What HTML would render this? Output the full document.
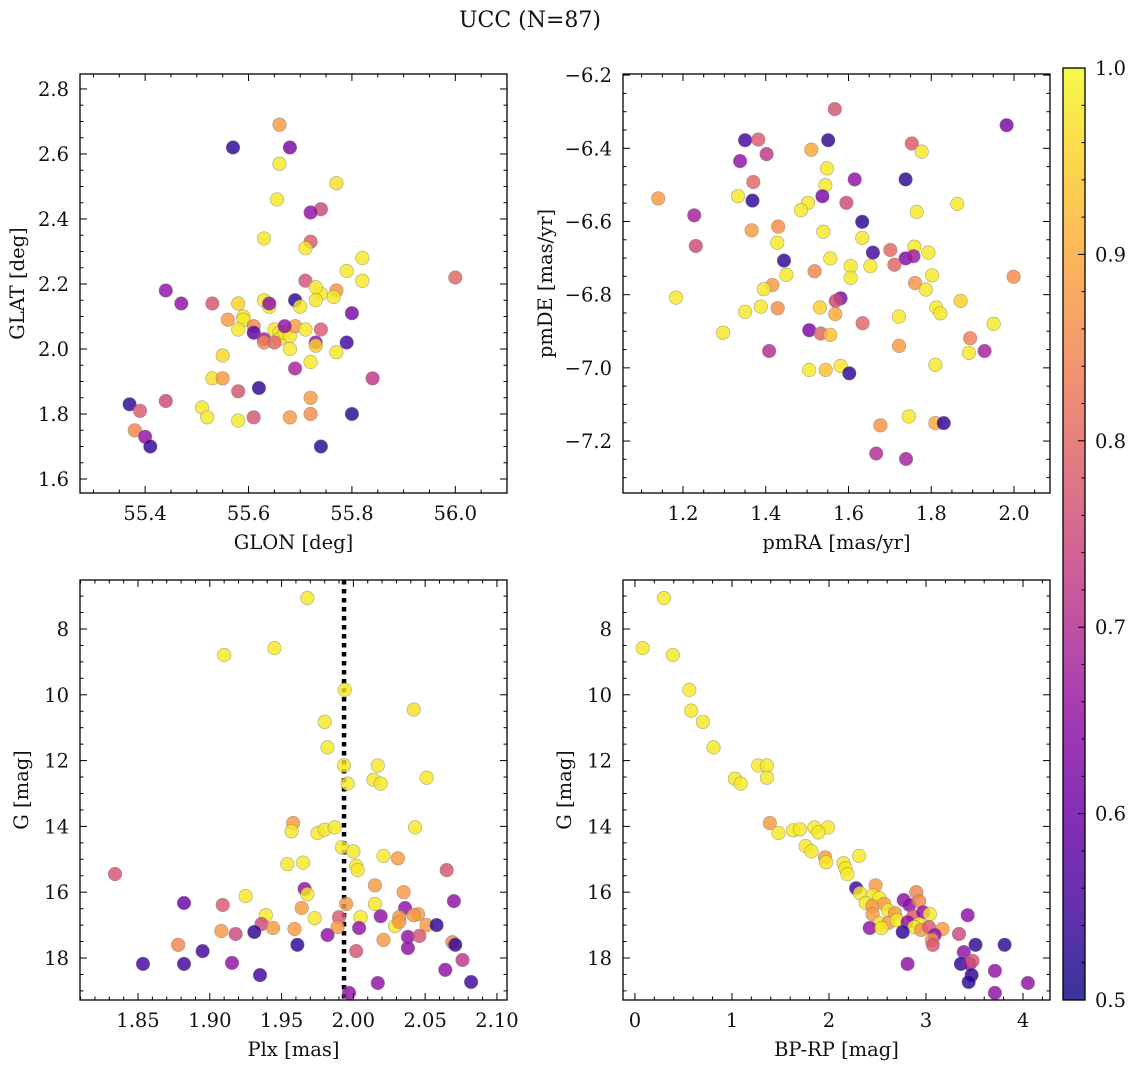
<!DOCTYPE html>
<html><head><meta charset="utf-8"><title>UCC (N=87)</title>
<style>
html,body{margin:0;padding:0;background:#fff;}
svg{display:block;font-family:"DejaVu Serif","Liberation Serif",serif;}
</style></head>
<body>
<svg id="fig" width="1136" height="1068" viewBox="0 0 1136 1068" xmlns="http://www.w3.org/2000/svg">
<text x="530" y="27" font-size="22" text-anchor="middle" fill="#111">UCC (N=87)</text>
</svg>
<script>
// ---------- Panel 1: GLON / GLAT ----------
const glon = [55.66,55.57,55.68,55.66,55.655,55.74,55.77,55.72,55.63,55.72,55.71,55.82,55.79,55.82,55.71,56.00,55.44,55.47,55.53,55.58,55.63,55.69,55.74,55.73,55.73,55.77,55.64,55.70,55.80,55.56,55.59,55.59,55.58,55.61,55.61,55.63,55.63,55.65,55.66,55.66,55.67,55.68,55.69,55.71,55.67,55.65,55.68,55.73,55.73,55.79,55.69,55.72,55.55,55.77,55.62,55.58,55.53,55.55,55.51,55.52,55.58,55.61,55.68,55.72,55.72,55.80,55.84,55.37,55.39,55.44,55.38,55.40,55.41,55.74,55.64,55.74,55.765];
const glat = [2.69,2.62,2.62,2.57,2.46,2.43,2.51,2.42,2.34,2.33,2.31,2.28,2.24,2.21,2.21,2.22,2.18,2.14,2.14,2.14,2.15,2.15,2.17,2.15,2.19,2.18,2.13,2.13,2.11,2.09,2.10,2.09,2.06,2.07,2.05,2.03,2.02,2.06,2.05,2.03,2.05,2.04,2.07,2.06,2.07,2.02,2.00,2.02,2.01,2.02,1.94,1.96,1.98,1.99,1.88,1.87,1.91,1.91,1.82,1.79,1.78,1.79,1.79,1.80,1.85,1.80,1.91,1.83,1.81,1.84,1.75,1.73,1.70,1.70,2.14,2.06,2.16];
const probTL = [0.88,0.53,0.62,0.98,0.98,0.75,0.97,0.65,0.98,0.78,0.98,0.98,0.98,0.98,0.77,0.80,0.65,0.65,0.77,0.95,0.98,0.53,0.98,0.98,0.98,0.87,0.98,0.98,0.62,0.88,0.98,0.98,0.98,0.85,0.58,0.68,0.85,0.98,0.98,0.98,0.98,0.98,0.88,0.98,0.65,0.80,0.98,0.65,0.95,0.55,0.68,0.98,0.96,0.98,0.53,0.77,0.97,0.88,0.98,0.98,0.98,0.77,0.88,0.86,0.88,0.53,0.72,0.53,0.78,0.75,0.85,0.65,0.53,0.53,0.65,0.78,0.98];

// ---------- Panel 2: pmRA / pmDE ----------
const pmra = [1.567,1.982,1.350,1.382,1.551,1.753,1.777,1.510,1.402,1.338,1.548,1.615,1.738,1.370,1.544,1.140,1.333,1.368,1.537,1.502,1.485,1.595,1.863,1.227,1.765,1.633,1.366,1.430,1.539,1.633,1.428,1.231,1.701,1.659,1.759,1.793,1.738,1.757,1.444,1.556,1.605,1.653,1.711,1.450,1.518,1.605,1.802,1.999,1.761,1.416,1.395,1.787,1.183,1.581,1.569,1.871,1.388,1.350,1.429,1.531,1.568,1.812,1.822,1.722,1.634,1.951,1.297,1.505,1.533,1.556,1.894,1.722,1.408,1.929,1.891,1.810,1.505,1.545,1.581,1.602,1.746,1.677,1.810,1.830,1.667,1.739];
const pmde = [-6.293,-6.337,-6.378,-6.376,-6.378,-6.387,-6.409,-6.404,-6.416,-6.435,-6.455,-6.485,-6.485,-6.492,-6.501,-6.537,-6.531,-6.543,-6.531,-6.549,-6.569,-6.549,-6.552,-6.583,-6.574,-6.601,-6.624,-6.614,-6.628,-6.645,-6.658,-6.667,-6.678,-6.685,-6.669,-6.685,-6.701,-6.695,-6.707,-6.701,-6.722,-6.722,-6.718,-6.746,-6.736,-6.754,-6.747,-6.751,-6.768,-6.774,-6.785,-6.786,-6.808,-6.810,-6.817,-6.817,-6.833,-6.847,-6.837,-6.835,-6.853,-6.835,-6.851,-6.860,-6.878,-6.880,-6.904,-6.897,-6.906,-6.910,-6.919,-6.940,-6.954,-6.954,-6.959,-6.992,-7.006,-7.006,-6.995,-7.015,-7.133,-7.157,-7.151,-7.151,-7.234,-7.249];
const probTR = [0.77,0.62,0.55,0.78,0.53,0.78,0.98,0.90,0.72,0.65,0.98,0.65,0.53,0.80,0.98,0.88,0.98,0.53,0.62,0.98,0.98,0.75,0.98,0.68,0.98,0.52,0.88,0.86,0.98,0.98,0.98,0.75,0.80,0.55,0.98,0.98,0.63,0.67,0.53,0.98,0.98,0.98,0.80,0.98,0.85,0.98,0.98,0.86,0.87,0.88,0.98,0.98,0.98,0.62,0.75,0.95,0.98,0.98,0.86,0.95,0.90,0.98,0.98,0.98,0.80,0.98,0.98,0.62,0.80,0.93,0.84,0.88,0.70,0.68,0.98,0.98,0.98,0.93,0.98,0.53,0.98,0.87,0.90,0.53,0.70,0.68];

// ---------- Panel 3: Plx / G ----------
const plx = [1.968,1.910,1.945,1.994,2.042,1.980,1.982,1.9935,2.014,2.017,2.019,1.996,2.051,1.958,1.957,1.975,1.980,1.987,2.043,1.992,2.000,2.021,2.031,1.954,1.965,2.002,2.003,2.065,2.015,1.966,1.968,1.925,2.035,1.882,1.909,2.015,1.995,2.070,1.939,1.964,2.036,2.045,1.990,2.005,2.019,2.032,2.042,1.973,1.936,1.944,1.959,1.989,2.004,2.029,2.032,2.051,2.058,1.908,1.918,1.931,1.982,2.038,2.046,2.021,2.069,1.961,2.002,2.038,2.071,1.878,1.895,2.076,2.064,1.8535,1.882,1.9155,1.935,2.017,2.082,1.997,1.834];
const gPlx = [7.06,8.79,8.58,9.85,10.45,10.82,11.6,12.15,12.58,12.15,12.7,12.7,12.52,13.9,14.15,14.2,14.1,14.03,14.03,14.64,14.76,14.9,14.97,15.15,15.1,15.2,15.33,15.33,15.79,15.9,16.06,16.12,16.0,16.33,16.39,16.36,16.36,16.27,16.7,16.48,16.48,16.67,16.76,16.76,16.73,16.76,16.7,16.79,16.97,17.09,17.12,17.06,17.09,17.03,16.9,17.0,17.0,17.18,17.27,17.21,17.3,17.36,17.33,17.45,17.52,17.6,17.79,17.7,17.6,17.6,17.79,18.06,18.36,18.18,18.18,18.15,18.52,18.76,18.73,19.06,15.45];
const probBL = [0.98,0.98,0.98,0.98,0.97,0.98,0.98,0.98,0.98,0.98,0.98,0.98,0.98,0.88,0.98,0.98,0.98,0.98,0.98,0.98,0.98,0.98,0.88,0.98,0.98,0.98,0.98,0.77,0.88,0.65,0.98,0.98,0.88,0.60,0.78,0.98,0.88,0.65,0.98,0.88,0.65,0.88,0.78,0.98,0.65,0.88,0.88,0.98,0.75,0.88,0.88,0.88,0.65,0.98,0.88,0.88,0.53,0.88,0.75,0.53,0.65,0.65,0.77,0.88,0.85,0.53,0.77,0.65,0.53,0.85,0.55,0.72,0.65,0.55,0.55,0.65,0.55,0.65,0.55,0.65,0.77];

// ---------- Panel 4: BP-RP / G ----------
const bprp = [0.30,0.08,0.39,0.56,0.58,0.70,0.81,1.27,1.36,1.03,1.09,1.36,1.39,1.48,1.63,1.70,1.85,1.99,1.89,1.76,1.82,1.96,1.97,2.31,2.15,2.17,2.19,2.28,2.48,2.32,2.45,2.52,2.38,2.45,2.57,2.61,2.77,2.83,2.90,2.93,2.45,2.68,2.87,2.97,3.04,3.43,2.52,2.61,2.70,2.81,2.93,2.88,2.42,2.54,2.95,3.03,3.17,2.76,3.09,3.34,3.06,3.07,3.51,3.81,3.39,3.36,2.81,3.45,3.48,3.71,3.47,3.44,4.05,3.71];
const gCol = [7.06,8.58,8.79,9.85,10.48,10.82,11.6,12.15,12.15,12.55,12.7,12.52,13.9,14.2,14.12,14.09,14.03,14.03,14.18,14.6,14.76,14.94,15.09,14.9,15.12,15.27,15.45,15.88,15.79,16.03,16.1,16.18,16.33,16.42,16.36,16.55,16.24,16.39,16.0,16.27,16.67,16.64,16.73,16.61,16.67,16.7,16.94,16.94,16.85,16.91,16.97,17.06,17.09,17.09,17.15,17.06,17.12,17.21,17.3,17.27,17.45,17.6,17.6,17.6,17.82,18.18,18.18,18.18,18.09,18.39,18.52,18.73,18.76,19.06];
const probBR = [0.98,0.98,0.98,0.98,0.98,0.98,0.98,0.98,0.98,0.98,0.98,0.98,0.88,0.98,0.98,0.98,0.98,0.98,0.98,0.98,0.98,0.88,0.98,0.98,0.98,0.98,0.98,0.55,0.88,0.98,0.98,0.98,0.98,0.88,0.88,0.98,0.65,0.65,0.85,0.85,0.88,0.88,0.78,0.65,0.98,0.65,0.98,0.88,0.98,0.65,0.98,0.98,0.65,0.98,0.88,0.78,0.88,0.53,0.65,0.75,0.88,0.77,0.53,0.53,0.65,0.53,0.65,0.65,0.77,0.65,0.53,0.53,0.65,0.65];

// ---------- Colorbar ticks ----------
const cbTicks = [0.5,0.6,0.7,0.8,0.9,1.0];
const cbTickLabels = ["0.5","0.6","0.7","0.8","0.9","1.0"];

const NS = "http://www.w3.org/2000/svg";
const fig = document.getElementById('fig');
const ALPHA = 0.82;
const FS = 19.5;
const plasmaStops = ["#0d0887","#41049d","#6a00a8","#8f0da4","#b12a90","#cc4778","#e16462","#f2844b","#fca636","#fcce25","#f0f921"];
function hex2rgb(h){return [parseInt(h.slice(1,3),16),parseInt(h.slice(3,5),16),parseInt(h.slice(5,7),16)];}
function plasma(t){
  t=Math.max(0,Math.min(1,t));
  const f=t*10, i=Math.min(9,Math.floor(f)), r=f-i;
  const a=hex2rgb(plasmaStops[i]), b=hex2rgb(plasmaStops[i+1]);
  return 'rgb('+a.map((v,k)=>Math.round(v+(b[k]-v)*r)).join(',')+')';
}
function probColor(p){return plasma((p-0.5)/0.5);}
function mk(tag,attrs,parent){
  const e=document.createElementNS(NS,tag);
  for(const k in attrs) e.setAttribute(k,attrs[k]);
  (parent||fig).appendChild(e);
  return e;
}
function fmt(v,dec){return (v<0?'\u2212':'')+Math.abs(v).toFixed(dec);}

function panel(cfg, xs, ys, ps){
  const {x0,x1,y0,y1,xd,yd,invY,xMaj,xMin,yMaj,yMin,xDec,yDec,xLabel,yLabel,yLabX,name}=cfg;
  const g=mk('g',{});
  
  
  const sx=v=>x0+(v-xd[0])/(xd[1]-xd[0])*(x1-x0);
  const sy=invY? (v=>y0+(v-yd[0])/(yd[1]-yd[0])*(y1-y0)) : (v=>y1-(v-yd[0])/(yd[1]-yd[0])*(y1-y0));
  const cid='clip-'+name;
  const cp=mk('clipPath',{id:cid},g); mk('rect',{x:x0,y:y0,width:x1-x0,height:y1-y0},cp);
  const pts=mk('g',{'clip-path':'url(#'+cid+')'},g);
  
  
  if(cfg.vline!==undefined){
    const vl=mk('line',{x1:sx(cfg.vline),x2:sx(cfg.vline),y1:y0,y2:y1,stroke:'#000','stroke-width':4.5,'stroke-dasharray':'4.5,4.5'},pts);
    
    
  }
  for(let i=0;i<xs.length;i++){
    const c=mk('circle',{cx:sx(xs[i]).toFixed(1),cy:sy(ys[i]).toFixed(1),r:6.8,fill:probColor(ps[i]),'fill-opacity':ALPHA,stroke:'#777','stroke-opacity':0.6,'stroke-width':0.6},pts);
    
    
  }
  const fr=mk('rect',{x:x0,y:y0,width:x1-x0,height:y1-y0,fill:'none',stroke:'#000','stroke-width':1.3},g);
  
  
  const tg=mk('g',{stroke:'#000','stroke-width':1},g);
  const eps=1e-9;
  const xs0=Math.ceil((xd[0]-eps)/xMin)*xMin;
  for(let v=xs0; v<=xd[1]+eps; v+=xMin){
    const vv=Math.round(v/xMin)*xMin;
    const X=sx(vv);
    const isMaj=Math.abs(vv/xMaj-Math.round(vv/xMaj))<1e-6;
    const L=isMaj?7:3.5;
    mk('line',{x1:X,x2:X,y1:y1,y2:y1-L},tg);
    mk('line',{x1:X,x2:X,y1:y0,y2:y0+L},tg);
    if(isMaj){
      const t=mk('text',{x:X,y:y1+27,'font-size':FS,'text-anchor':'middle',fill:'#111',stroke:'none'},g);
      t.textContent=fmt(vv,xDec);
      
      
    }
  }
  const ylo=Math.min(yd[0],yd[1]), yhi=Math.max(yd[0],yd[1]);
  const ys0=Math.ceil((ylo-eps)/yMin)*yMin;
  for(let v=ys0; v<=yhi+eps; v+=yMin){
    const vv=Math.round(v/yMin)*yMin;
    const Y=sy(vv);
    const isMaj=Math.abs(vv/yMaj-Math.round(vv/yMaj))<1e-6;
    const L=isMaj?7:3.5;
    mk('line',{x1:x0,x2:x0+L,y1:Y,y2:Y},tg);
    mk('line',{x1:x1,x2:x1-L,y1:Y,y2:Y},tg);
    if(isMaj){
      const t=mk('text',{x:x0-11,y:Y+7,'font-size':FS,'text-anchor':'end',fill:'#111',stroke:'none'},g);
      t.textContent=fmt(vv,yDec);
      
      
    }
  }
  const xl=mk('text',{x:(x0+x1)/2,y:y1+56,'font-size':FS,'text-anchor':'middle',fill:'#111'},g);
  xl.textContent=xLabel;
  
  
  const yc=(y0+y1)/2;
  const yl=mk('text',{x:yLabX,y:yc,'font-size':FS,'text-anchor':'middle',fill:'#111',transform:'rotate(-90 '+yLabX+' '+yc+')'},g);
  yl.textContent=yLabel;
  
  
}

panel({name:'glon-glat-panel',x0:80,x1:507,y0:74,y1:493,xd:[55.274,56.100],yd:[1.557,2.846],invY:false,xMaj:0.2,xMin:0.05,yMaj:0.2,yMin:0.05,xDec:1,yDec:1,xLabel:'GLON [deg]',yLabel:'GLAT [deg]',yLabX:24},glon,glat,probTL);
panel({name:'pm-panel',x0:623,x1:1050,y0:74,y1:493,xd:[1.055,2.087],yd:[-7.342,-6.197],invY:false,xMaj:0.2,xMin:0.05,yMaj:0.2,yMin:0.05,xDec:1,yDec:1,xLabel:'pmRA [mas/yr]',yLabel:'pmDE [mas/yr]',yLabX:552},pmra,pmde,probTR);
panel({name:'plx-g-panel',x0:80,x1:507,y0:580,y1:1000,xd:[1.8096,2.107],yd:[6.511,19.277],invY:true,xMaj:0.05,xMin:0.01,yMaj:2,yMin:0.5,xDec:2,yDec:0,xLabel:'Plx [mas]',yLabel:'G [mag]',yLabX:28,vline:1.9935},plx,gPlx,probBL);
panel({name:'cmd-panel',x0:623,x1:1050,y0:580,y1:1000,xd:[-0.123,4.278],yd:[6.511,19.277],invY:true,xMaj:1,xMin:0.2,yMaj:2,yMin:0.5,xDec:0,yDec:0,xLabel:'BP-RP [mag]',yLabel:'G [mag]',yLabX:571},bprp,gCol,probBR);

(function(){
  const cx0=1063,cx1=1085,cy0=68,cy1=1000;
  const g=mk('g',{});
  
  
  const defs=mk('defs',{},g);
  const lg=mk('linearGradient',{id:'cbgrad',x1:0,y1:1,x2:0,y2:0},defs);
  for(let i=0;i<=20;i++){mk('stop',{offset:(i/20),'stop-color':plasma(i/20),'stop-opacity':ALPHA},lg);}
  mk('rect',{x:cx0,y:cy0,width:cx1-cx0,height:cy1-cy0,fill:'url(#cbgrad)',stroke:'#000','stroke-width':1.3},g);
  const sy=v=>cy1-(v-0.5)/0.5*(cy1-cy0);
  for(let k=0;k<=25;k++){
    const v=0.5+k*0.02, Y=sy(v);
    const maj=(k%5===0);
    mk('line',{x1:cx1,x2:cx1-(maj?7:3.5),y1:Y,y2:Y,stroke:'#000','stroke-width':1},g);
  }
  for(let i=0;i<cbTicks.length;i++){
    const t=mk('text',{x:cx1+10,y:sy(cbTicks[i])+7,'font-size':FS,fill:'#111'},g);
    t.textContent=cbTickLabels[i];
    
    
  }
})();
</script>
</body></html>
